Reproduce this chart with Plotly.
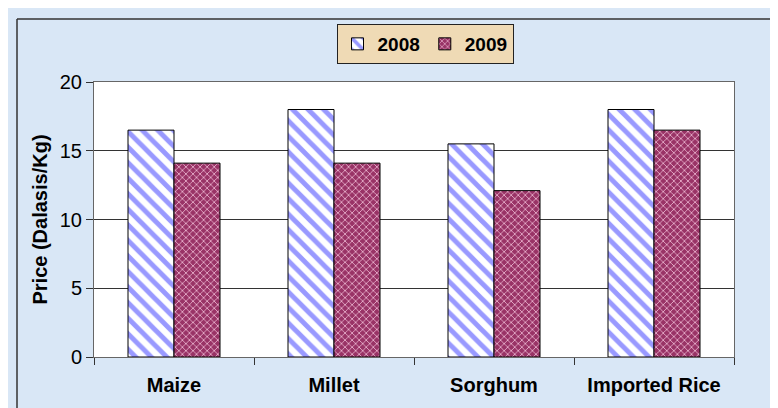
import plotly.graph_objects as go

categories = ["Maize", "Millet", "Sorghum", "Imported Rice"]
prices_2008 = [16.5, 18.0, 15.5, 18.0]
prices_2009 = [14.1, 14.1, 12.1, 16.5]
y_ticks = [0, 5, 10, 15, 20]

FONT = "Liberation Sans, Arial, sans-serif"

fig = go.Figure()
fig.add_trace(go.Bar(
    name="2008", x=categories, y=prices_2008,
    marker=dict(color="white", line=dict(color="black", width=1),
                pattern=dict(shape="\\", fgcolor="#9999ff", bgcolor="white",
                             size=11, solidity=0.45, fillmode="replace")),
))
fig.add_trace(go.Bar(
    name="2009", x=categories, y=prices_2009,
    marker=dict(color="#993366", line=dict(color="black", width=1),
                pattern=dict(shape="x", fgcolor="#eab4cf", bgcolor="#993366",
                             size=5, solidity=0.3, fillmode="replace")),
))

L, R, T, B = 86, 726, 74, 349
W, H = 778, 408
pw, ph = R - L, B - T

def px(x):
    return (x - L) / pw

def py(y):
    return (B - y) / ph

fig.update_layout(
    width=W, height=H,
    margin=dict(l=L, r=W - R, t=T, b=H - B),
    paper_bgcolor="#d9e7f6",
    plot_bgcolor="white",
    barmode="group", bargap=0.425, bargroupgap=0,
    font=dict(family=FONT, color="black", size=20),
    showlegend=True,
    legend=dict(orientation="h", x=px(417), y=py(16), xanchor="center", yanchor="top",
                bgcolor="#efdab5", bordercolor="#222", borderwidth=1,
                font=dict(family=FONT, size=19, color="black", weight="bold"),
                itemwidth=30, traceorder="normal", tracegroupgap=0),
    xaxis=dict(showline=True, linecolor="#666", linewidth=1, mirror=True,
               ticks="outside", ticklen=7, tickcolor="#333", tickson="boundaries",
               tickfont=dict(family=FONT, size=20, weight="bold"),
               ticklabelstandoff=10, showgrid=False),
    yaxis=dict(range=[0, 20], tickvals=y_ticks, showline=True, linecolor="#666",
               linewidth=1, mirror=True, ticks="outside", ticklen=7, tickcolor="#333",
               showgrid=True, gridcolor="#333", gridwidth=1,
               tickfont=dict(family=FONT, size=20),
               title=dict(text="<b>Price (Dalasis/Kg)</b>", font=dict(family=FONT, size=20),
                          standoff=6)),
    shapes=[
        dict(type="line", xref="paper", yref="paper", x0=px(9), x1=px(9), y0=py(11), y1=py(H),
             line=dict(color="#333", width=1.5)),
        dict(type="line", xref="paper", yref="paper", x0=px(9), x1=px(W), y0=py(11), y1=py(11),
             line=dict(color="#333", width=1.5)),
    ],
)

fig.write_html("out.html")
